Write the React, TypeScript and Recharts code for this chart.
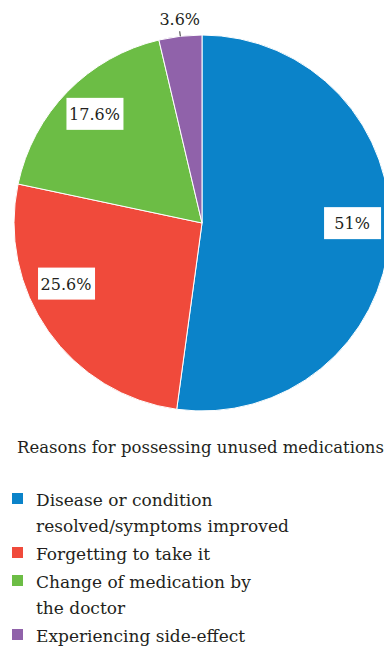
import React from 'react';
import { PieChart, Pie, Cell, Legend } from 'recharts';

const REASONS = [
  'Disease or condition resolved/symptoms improved',
  'Forgetting to take it',
  'Change of medication by the doctor',
  'Experiencing side-effect',
];
// legend lines as wrapped in the original
const LEGEND_LINES = [
  ['Disease or condition', 'resolved/symptoms improved'],
  ['Forgetting to take it'],
  ['Change of medication by', 'the doctor'],
  ['Experiencing side-effect'],
];
const SHARES = [51, 25.6, 17.6, 3.6];
const SHARE_LABELS = ['51%', '25.6%', '17.6%', '3.6%'];
const COLORS = ['#0b83c9', '#f04a3b', '#6cbd45', '#9062aa'];

const data = REASONS.map((name, i) => ({ name, value: SHARES[i] }));

const FONT = "'DejaVu Serif', serif";
const RADIAN = Math.PI / 180;

// small tweaks so the boxes sit where the original put them
const LABEL_NUDGE: Record<number, { dx: number; dy: number }> = {
  0: { dx: 0, dy: -10 },
  1: { dx: -13, dy: -26 },
  2: { dx: 0, dy: -4 },
};

const renderLabel = (props: any) => {
  const { cx, cy, midAngle, outerRadius, index } = props;
  const cos = Math.cos(-midAngle * RADIAN);
  const sin = Math.sin(-midAngle * RADIAN);
  const text = SHARE_LABELS[index];

  if (SHARES[index] < 5) {
    // small slice: label outside with a short tick
    const x1 = cx + outerRadius * cos;
    const y1 = cy + outerRadius * sin;
    const x2 = cx + (outerRadius + 5) * cos;
    const y2 = cy + (outerRadius + 5) * sin;
    return (
      <g key={`lbl-${index}`}>
        <line x1={x1} y1={y1} x2={x2} y2={y2} stroke="#333" strokeWidth={1} />
        <text x={x2} y={y2 - 6} textAnchor="middle" fontSize={16} style={{ fontFamily: FONT }} fill="#231f20">
          {text}
        </text>
      </g>
    );
  }

  const nudge = LABEL_NUDGE[index] || { dx: 0, dy: 0 };
  const r = outerRadius * 0.8;
  const x = cx + r * cos + nudge.dx;
  const y = cy + r * sin + nudge.dy;
  return (
    <g key={`lbl-${index}`}>
      <rect x={x - 28} y={y - 16} width={57} height={32} fill="#fff" />
      <text x={x} y={y + 6} textAnchor="middle" fontSize={16} style={{ fontFamily: FONT }} fill="#231f20">
        {text}
      </text>
    </g>
  );
};

const LegendContent = () => (
  <div style={{ fontFamily: FONT, color: '#231f20' }}>
    <div style={{ fontSize: 16.5, paddingLeft: 17, whiteSpace: 'nowrap', marginBottom: 30 }}>
      Reasons for possessing unused medications
    </div>
    {LEGEND_LINES.map((lines, i) => (
      <div key={i} style={{ display: 'flex', alignItems: 'flex-start', marginBottom: 2 }}>
        <div style={{ width: 11, height: 11, background: COLORS[i], marginLeft: 12, marginTop: 6, flexShrink: 0 }} />
        <div style={{ marginLeft: 13, fontSize: 17, lineHeight: '26px' }}>
          {lines.map((l, j) => (
            <div key={j}>{l}</div>
          ))}
        </div>
      </div>
    ))}
  </div>
);

export default function App() {
  return (
    <div style={{ position: 'absolute', left: 0, top: 0, width: 384, height: 650, background: '#fff', overflow: 'hidden' }}>
      <PieChart width={400} height={650} margin={{ top: 0, right: 0, bottom: 0, left: 0 }}>
        <Pie
          data={data}
          dataKey="value"
          nameKey="name"
          cx={202}
          cy={223}
          outerRadius={188}
          startAngle={90}
          endAngle={-270}
          stroke="#fff"
          strokeWidth={1}
          labelLine={false}
          label={renderLabel}
          isAnimationActive={false}
        >
          {data.map((d, i) => (
            <Cell key={d.name} fill={COLORS[i]} />
          ))}
        </Pie>
        <Legend
          content={<LegendContent />}
          wrapperStyle={{ position: 'absolute', left: 0, top: 438, width: 400 }}
        />
      </PieChart>
    </div>
  );
}
